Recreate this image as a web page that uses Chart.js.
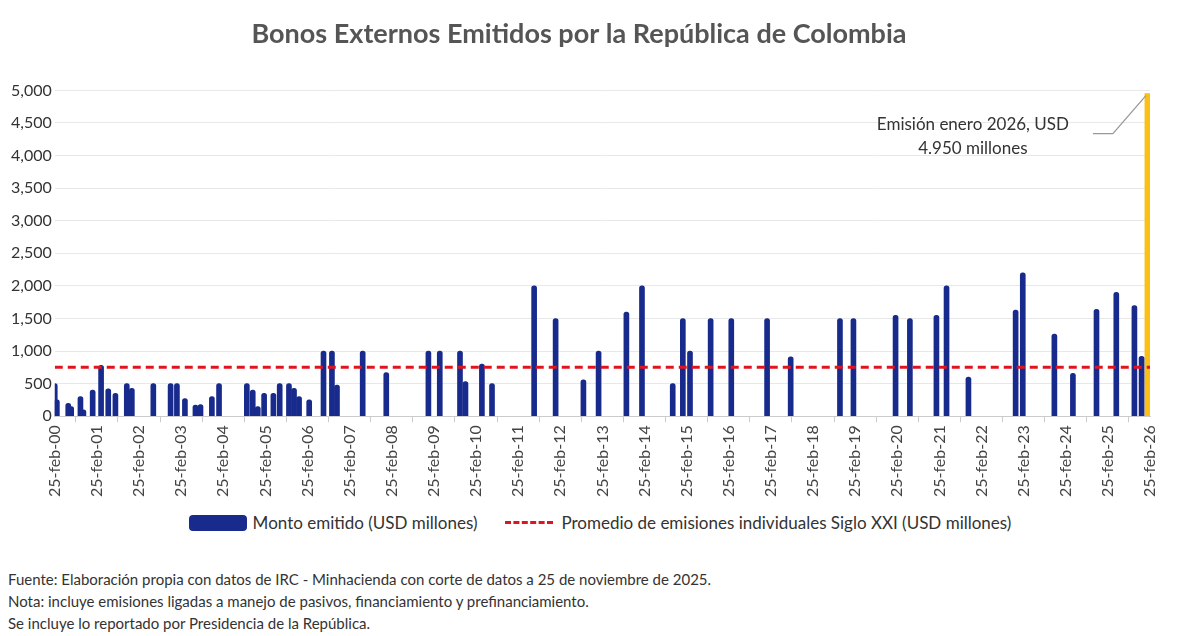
<!DOCTYPE html>
<html>
<head>
<meta charset="utf-8">
<script src="https://cdn.jsdelivr.net/npm/chart.js@4/dist/chart.umd.min.js"></script>
<style>
body { margin:0; background:#fff; font-family: Lato, "Open Sans", sans-serif; }
#wrap { position:relative; width:1200px; height:500px; }
#legend { position:absolute; top:512px; left:0; width:1200px; display:flex; justify-content:center; align-items:center; font-size:17px; color:#333; }
#legend .item { display:flex; align-items:center; margin:0 14px; }
.box { display:inline-block; width:58px; height:16px; background:#182a8c; border-radius:4px; margin-right:6px; }
.dash { display:inline-block; width:48px; height:0; border-top:3px dashed #e0141e; margin-right:8px; }
#notes { position:absolute; top:568px; left:8px; font-size:15px; color:#333; line-height:22px; }
</style>
</head>
<body>
<div id="wrap"><canvas id="chart" width="1200" height="500"></canvas></div>
<div id="legend">
  <span class="item"><span class="box"></span>Monto emitido (USD millones)</span>
  <span class="item"><span class="dash"></span>Promedio de emisiones individuales Siglo XXI (USD millones)</span>
</div>
<div id="notes">
Fuente: Elaboración propia con datos de IRC - Minhacienda con corte de datos a 25 de noviembre de 2025.<br>
Nota: incluye emisiones ligadas a manejo de pasivos, financiamiento y prefinanciamiento.<br>
Se incluye lo reportado por Presidencia de la República.
</div>
<script>
// Fecha de emisión (año fraccional) y monto (USD millones)
var issueDates = [2000.15,2000.20,2000.47,2000.54,2000.76,2000.83,2001.05,2001.25,2001.42,2001.59,
  2001.86,2001.98,2002.49,2002.90,2003.05,2003.24,2003.49,2003.61,2003.88,2004.05,
  2004.71,2004.85,2004.97,2005.12,2005.34,2005.49,2005.71,2005.83,2005.95,2006.19,
  2006.53,2006.73,2006.85,2007.46,2008.02,2009.02,2009.29,2009.77,2009.90,2010.29,
  2010.53,2011.53,2012.04,2012.70,2013.06,2013.72,2014.09,2014.82,2015.06,2015.23,
  2015.72,2016.21,2017.06,2017.62,2018.79,2019.11,2020.11,2020.45,2021.08,2021.32,
  2021.84,2022.96,2023.13,2023.88,2024.32,2024.88,2025.35,2025.78,2025.95];
var issueAmounts = [500,250,200,150,300,100,400,780,420,350,
  500,430,500,500,500,270,170,180,300,500,
  500,400,150,350,350,500,500,430,300,250,
  1000,1000,480,1000,670,1000,1000,1000,530,800,
  500,2000,1500,560,1000,1600,2000,500,1500,1000,
  1500,1500,1500,910,1500,1500,1550,1500,1550,2000,
  600,1630,2200,1260,660,1640,1900,1700,920];
var newIssueDate = 2026.10;
var newIssueAmount = 4950;
var averageIssue = 750;
var yearLabels = ['00','01','02','03','04','05','06','07','08','09','10','11','12','13',
  '14','15','16','17','18','19','20','21','22','23','24','25','26'];
var xStart = 2000.15, xEnd = 2026.15;

var blueBars = issueDates.map(function (d, i) { return {x: d, y: issueAmounts[i]}; });

var notePlugin = {
  id: 'note',
  afterDraw: function (c) {
    var ctx = c.ctx, xs = c.scales.x, ys = c.scales.y;
    var px = xs.getPixelForValue(newIssueDate), py = ys.getPixelForValue(newIssueAmount);
    ctx.save();
    ctx.strokeStyle = '#999'; ctx.lineWidth = 1.3;
    ctx.beginPath();
    ctx.moveTo(px - 55, py + 40); ctx.lineTo(px - 35, py + 40); ctx.lineTo(px - 2, py + 2);
    ctx.stroke();
    ctx.fillStyle = '#333'; ctx.font = '17px Lato, sans-serif'; ctx.textAlign = 'center';
    ctx.fillText('Emisión enero 2026, USD', px - 175, py + 36);
    ctx.fillText('4.950 millones', px - 175, py + 60);
    ctx.restore();
  }
};

new Chart(document.getElementById('chart'), {
  type: 'bar',
  data: {
    datasets: [{
      data: blueBars, backgroundColor: '#182a8c', barThickness: 5,
      borderRadius: 3, borderSkipped: 'bottom', grouped: false, order: 2
    }, {
      data: [{x: newIssueDate, y: newIssueAmount}], backgroundColor: '#fbbf16',
      barThickness: 6, grouped: false, order: 3
    }, {
      type: 'line',
      data: [{x: xStart, y: averageIssue}, {x: xEnd, y: averageIssue}],
      borderColor: '#e0141e', borderWidth: 3, borderDash: [8, 5],
      pointRadius: 0, order: 1
    }]
  },
  options: {
    responsive: false, animation: false,
    layout: {padding: {right: 50, left: 8, top: 0}},
    plugins: {
      legend: {display: false},
      tooltip: {enabled: false},
      title: {
        display: true, text: 'Bonos Externos Emitidos por la República de Colombia',
        color: '#555', font: {size: 27, weight: 'bold', family: 'Lato'},
        padding: {top: 18, bottom: 40}
      }
    },
    scales: {
      x: {
        type: 'linear', min: xStart, max: xEnd, offset: false,
        afterBuildTicks: function (ax) {
          ax.ticks = yearLabels.map(function (l, i) { return {value: xStart + i}; });
        },
        ticks: {
          autoSkip: false, minRotation: 90, maxRotation: 90, color: '#444',
          font: {size: 16, family: 'Lato'},
          callback: function (v, i) { return '25-feb-' + yearLabels[i]; }
        },
        grid: {display: true, drawOnChartArea: false, tickLength: 6, color: '#ccc'},
        border: {color: '#ccc'}
      },
      y: {
        min: 0, max: 5000,
        ticks: {stepSize: 500, color: '#333', font: {size: 16, family: 'Lato'}},
        grid: {color: '#e8e8e8', drawTicks: false}, border: {display: false}
      }
    }
  },
  plugins: [notePlugin]
});
</script>
</body>
</html>
